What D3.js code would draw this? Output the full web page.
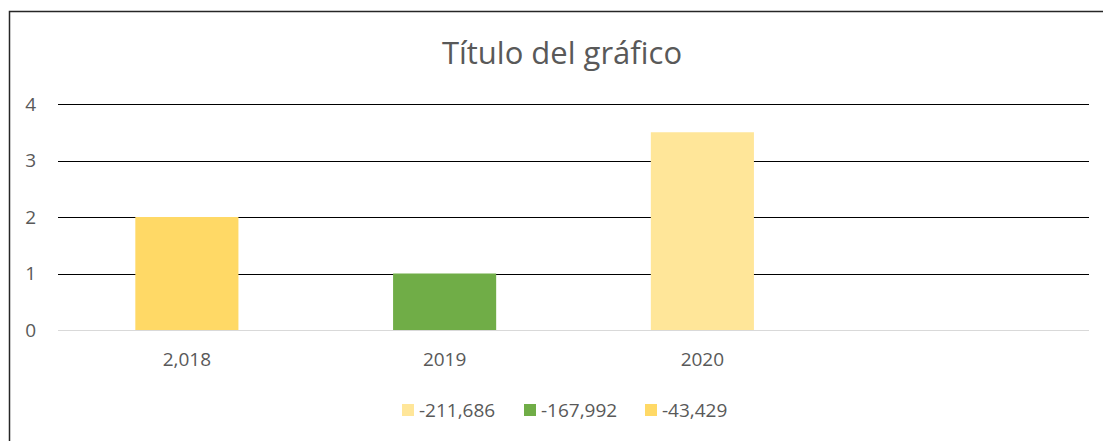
<!DOCTYPE html>
<html><head><meta charset="utf-8">
<script src="https://cdn.jsdelivr.net/npm/d3@7"></script>
<style>body{margin:0;background:#fff}svg{display:block}</style>
</head><body>
<svg id="c" width="1103" height="441"></svg>
<script>
const categories = ["2,018", "2019", "2020", ""];
const seriesNames = ["-211,686", "-167,992", "-43,429"];
const seriesColors = ["#FFE699", "#70AD47", "#FFD966"];
// value of each series per category (null = no bar)
const s1 = [null, null, 3.5, null];
const s2 = [null, 1, null, null];
const s3 = [2, null, null, null];
const yTicks = [0, 1, 2, 3, 4];
const title = "Título del gráfico";

const series = [s1, s2, s3];
const svg = d3.select("#c");
const font = "'Open Sans', 'Noto Sans', sans-serif";
const gray = "#595959";

// frame
svg.append("rect").attr("x", 9.5).attr("y", 11.5).attr("width", 1110).attr("height", 450)
  .attr("fill", "#fff").attr("stroke", "#262626").attr("stroke-width", 1.5);

const x = d3.scaleBand().domain(d3.range(categories.length)).range([58, 1089])
  .paddingInner(0.6).paddingOuter(0.3);
const y = d3.scaleLinear().domain([0, 4]).range([330, 104]);

// gridlines
svg.append("g").selectAll("line").data(yTicks.filter(d => d > 0)).join("line")
  .attr("x1", 58).attr("x2", 1089)
  .attr("y1", d => Math.round(y(d)) + 0.5).attr("y2", d => Math.round(y(d)) + 0.5)
  .attr("stroke", "#000").attr("stroke-width", 1);

// y labels
svg.append("g").selectAll("text").data(yTicks).join("text")
  .attr("x", 36).attr("y", d => y(d)).attr("dy", "0.35em")
  .attr("text-anchor", "end").attr("font-family", font).attr("font-size", 19)
  .attr("fill", gray).text(d => d);

// bars (stacked)
categories.forEach((c, i) => {
  let base = 0;
  series.forEach((s, k) => {
    const v = s[i];
    if (v == null) return;
    svg.append("rect").attr("x", x(i)).attr("width", x.bandwidth())
      .attr("y", y(base + v)).attr("height", y(base) - y(base + v))
      .attr("fill", seriesColors[k]);
    base += v;
  });
});

// baseline
svg.append("line").attr("x1", 58).attr("x2", 1089).attr("y1", 330.5).attr("y2", 330.5)
  .attr("stroke", "#d9d9d9").attr("stroke-width", 1.2);

// x labels
svg.append("g").selectAll("text").data(categories).join("text")
  .attr("x", (d, i) => x(i) + x.bandwidth() / 2).attr("y", 366)
  .attr("text-anchor", "middle").attr("font-family", font).attr("font-size", 19)
  .attr("fill", gray).text(d => d);

// title
svg.append("text").attr("x", 562).attr("y", 64).attr("text-anchor", "middle")
  .attr("font-family", font).attr("font-size", 31).attr("fill", gray).text(title);

// legend
const legX = [402, 524, 645];
const lg = svg.append("g").selectAll("g").data(seriesNames).join("g")
  .attr("transform", (d, i) => `translate(${legX[i]},404)`);
lg.append("rect").attr("width", 12).attr("height", 12).attr("fill", (d, i) => seriesColors[i]);
lg.append("text").attr("x", 17).attr("y", 6).attr("dy", "0.35em")
  .attr("font-family", font).attr("font-size", 19).attr("fill", gray).text(d => d);
</script>
</body></html>
